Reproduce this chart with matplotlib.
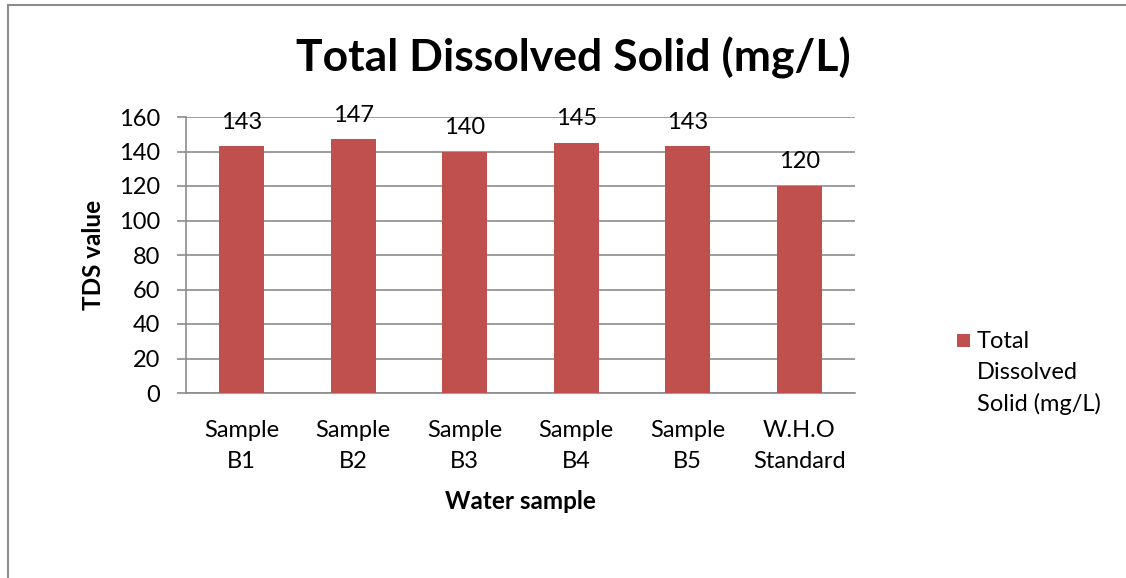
import matplotlib
matplotlib.use("Agg")
import matplotlib.pyplot as plt
from matplotlib.lines import Line2D
from matplotlib.patches import Rectangle

categories = ["Sample\nB1", "Sample\nB2", "Sample\nB3", "Sample\nB4", "Sample\nB5", "W.H.O\nStandard"]
values = [143, 147, 140, 145, 143, 120]
yticks = [0, 20, 40, 60, 80, 100, 120, 140, 160]
series_name = "Total\nDissolved\nSolid (mg/L)"
title = "Total Dissolved Solid (mg/L)"

plt.rcParams['font.family'] = ['Lato', 'DejaVu Sans']
bar_color = "#C0504D"
grid_color = "#8C8C8C"

fig = plt.figure(figsize=(11.26, 5.78), dpi=100)
ax = fig.add_axes([186/1126, 1-393/578, 669/1126, 276/578])

x = list(range(len(categories)))
bars = ax.bar(x, values, width=0.4, color=bar_color, zorder=3, label=series_name)
ax.set_xlim(-0.5, len(categories)-0.5)
ax.set_ylim(0, 160)
ax.set_yticks(yticks)
ax.set_xticks(x)
ax.set_xticklabels(categories, fontsize=17, linespacing=1.6)
ax.tick_params(axis='y', labelsize=17, length=6.5, color=grid_color, width=1.2, pad=12)
ax.tick_params(axis='x', length=0, pad=19.5)
ax.grid(axis='y', color=grid_color, linewidth=1.2, zorder=0)
for s in ['top', 'right']:
    ax.spines[s].set_visible(False)
ax.spines['left'].set_color(grid_color)
ax.spines['left'].set_linewidth(1.2)
ax.spines['bottom'].set_color(grid_color)
ax.spines['bottom'].set_linewidth(1.2)

for xi, v in zip(x, values):
    ax.annotate(str(v), (xi, v), xytext=(0, 17.5), textcoords='offset points',
                ha='center', va='center', fontsize=17)

ax.set_ylabel("TDS value", fontsize=17.5, fontweight='bold', labelpad=10)
ax.set_xlabel("Water sample", fontsize=17.5, fontweight='bold', labelpad=13)
fig.text(573/1126, 1-58/578, title, ha='center', va='center', fontsize=32, fontweight='bold')

# legend (single entry)
fig.add_artist(Rectangle((957/1126, 1-347/578), 13/1126, 13/578, transform=fig.transFigure,
                         facecolor=bar_color, edgecolor='none'))
for i, line in enumerate(series_name.split("\n")):
    fig.text(977/1126, 1-(341 + 31.5*i)/578, line, ha='left', va='center', fontsize=17)

# outer border (top & left)
fig.add_artist(Line2D([8/1126, 1], [1-5/578, 1-5/578], transform=fig.transFigure, color="#8C8C8C", linewidth=1.5))
fig.add_artist(Line2D([8/1126, 8/1126], [0, 1-5/578], transform=fig.transFigure, color="#8C8C8C", linewidth=1.5))

fig.savefig("out.png", dpi=100)
